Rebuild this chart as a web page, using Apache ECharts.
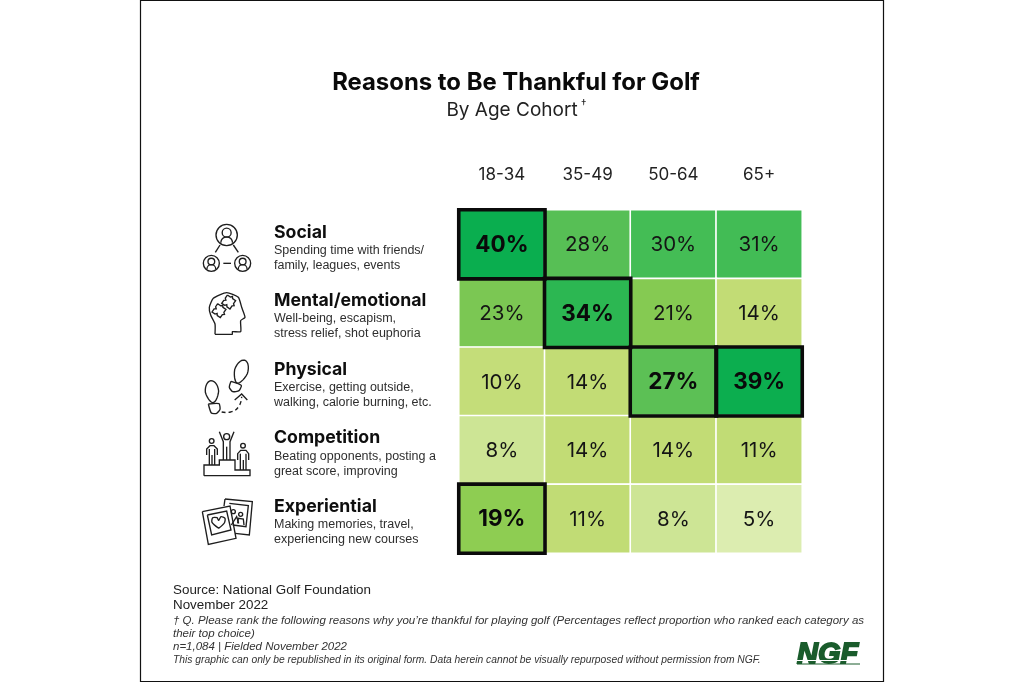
<!DOCTYPE html>
<html><head><meta charset="utf-8">
<style>html,body{margin:0;padding:0;background:#fff}#c{width:1024px;height:683px}</style>
<script src="https://cdn.jsdelivr.net/npm/echarts@6/dist/echarts.min.js"></script>
</head><body><div id="c"></div>
<script>
const titleText = 'Reasons to Be Thankful for Golf';
const subtitleText = 'By Age Cohort';
const cohorts = ['18-34','35-49','50-64','65+'];
const reasons = ['Social','Mental/emotional','Physical','Competition','Experiential'];
const descriptions = [
  ['Spending time with friends/','family, leagues, events'],
  ['Well-being, escapism,','stress relief, shot euphoria'],
  ['Exercise, getting outside,','walking, calorie burning, etc.'],
  ['Beating opponents, posting a','great score, improving'],
  ['Making memories, travel,','experiencing new courses']
];
const social = [40,28,30,31];
const mental = [23,34,21,14];
const physical = [10,14,27,39];
const competition = [8,14,14,11];
const experiential = [19,11,8,5];
const table = [social,mental,physical,competition,experiential];
const topChoice = [[0,0],[1,1],[2,2],[3,2],[0,4]]; // [cohort, reason]
const scaleValues = [5,8,10,11,14,19,21,23,27,28,30,31,34,39,40];
const scaleColors = ['#dcedb0','#cde595','#c4dd79','#c1dc75','#c2dc75','#8ecd52','#85ca52','#7bc753','#5cc055','#57bf55','#44bd55','#42bc55','#2cb752','#0cae4f','#0aae4f'];

const isTop=(x,y)=>topChoice.some(p=>p[0]===x&&p[1]===y);
const cells=[];
table.forEach((row,y)=>row.forEach((v,x)=>{
  const it={value:[x,y,v]};
  if(isTop(x,y)) it.label={fontWeight:'bold',fontSize:22.5,color:'#0a0a0a'};
  cells.push(it);
}));
const INK='#1e1e1e';
const ls={stroke:INK,lineWidth:1.35,fill:'none'};
const out=[];
function zp(o,pts,k){return pts.map(p=>[o[0]+p[0]/3,o[1]+p[1]/3]);}
function poly(o,pts,extra){out.push({type:'polyline',z:10,shape:Object.assign({points:zp(o,pts)},extra||{}),style:Object.assign({},ls,(extra&&extra.style)||{})});}
function circ(o,x,y,r){out.push({type:'circle',z:10,shape:{cx:o[0]+x/3,cy:o[1]+y/3,r:r/3},style:Object.assign({},ls)});}
function txt(text,x,y,font,extra){out.push({type:'text',z:10,x:x,y:y,style:Object.assign({text:text,font:font,fill:'#111',textAlign:'left',textVerticalAlign:'middle'},extra||{})});}
const Z1=[170,200],Z2=[170,375],Z3=[190,350];
// Social icon
function person(x,y,r){circ(Z1,x,y,r);circ(Z1,x,y-r*0.22,r*0.42);
  out.push({type:'arc',z:10,shape:{cx:Z1[0]+x/3,cy:Z1[1]+(y+r*0.72)/3,r:r*0.55/3,startAngle:Math.PI*1.0,endAngle:0,clockwise:true},style:Object.assign({},ls)});}
person(170,105,32);person(124,190,24);person(218,190,24);
poly(Z1,[[136,157],[150,135]]);poly(Z1,[[205,157],[190,135]]);poly(Z1,[[160,190],[183,190]]);
// Mental icon
poly(Z1,[[135,403],[135,372],[122,345],[118,322],[130,295],[170,278],[205,292],[215,322],[225,352],[212,362],[212,395],[187,395],[187,403],[135,403]],{smooth:0.18});
[[147,332],[176,306]].forEach(c=>{
 const a=0.6,s=15,co=Math.cos(a),si=Math.sin(a);
 const q=[[-s,-s],[-4,-s],[0,-s-5],[4,-s],[s,-s],[s,-4],[s+5,0],[s,4],[s,s],[4,s],[0,s-5],[-4,s],[-s,s],[-s,4],[-s+5,0],[-s,-4],[-s,-s]];
 poly(Z1,q.map(p=>[c[0]+p[0]*co-p[1]*si,c[1]+p[0]*si+p[1]*co]));
});
// Physical icon
function sole(o,cx,cy,rx,ry,rot){const pts=[];for(let i=0;i<=28;i++){const t=i/28*2*Math.PI;
  const w=Math.sin(t)>0?rx*(1-0.28*Math.sin(t)):rx; // narrower towards the heel end
  const x=w*Math.cos(t),y=ry*Math.sin(t);
  pts.push([cx+x*Math.cos(rot)-y*Math.sin(rot),cy+x*Math.sin(rot)+y*Math.cos(rot)]);}poly(o,pts);}
sole(Z3,66,125,20,33,-0.1);
poly(Z3,[[55,162],[87,161],[90,178],[80,190],[64,189],[55,162]],{smooth:0.2});
sole(Z3,153,65,20,36,0.32);
poly(Z3,[[123,94],[154,106],[147,122],[128,125],[118,112],[123,94]],{smooth:0.2});
poly(Z3,[[95,186],[122,186],[146,170],[155,140]],{smooth:0.5,style:{lineDash:[4,3]}});
poly(Z3,[[134,150],[155,132],[172,150]]);
// Competition icon
poly(Z2,[[102,302],[102,270],[148,270],[148,255],[195,255],[195,285],[240,285],[240,302],[102,302]]);
circ(Z2,170,185,9);
poly(Z2,[[148,170],[160,200],[160,255]]);poly(Z2,[[192,170],[180,200],[180,255]]);poly(Z2,[[170,215],[170,255]]);
circ(Z2,125,198,7);
poly(Z2,[[110,240],[110,222],[120,212],[132,212],[142,222],[142,240]]);poly(Z2,[[118,222],[118,270]]);poly(Z2,[[134,222],[134,270]]);poly(Z2,[[126,240],[126,270]]);
circ(Z2,219,212,7);
poly(Z2,[[203,255],[203,236],[212,226],[228,226],[236,236],[236,255]]);poly(Z2,[[211,236],[211,285]]);poly(Z2,[[228,236],[228,285]]);poly(Z2,[[220,255],[220,285]]);
// Experiential icon
poly(Z2,[[165,372],[247,380],[238,480],[195,475]]);poly(Z2,[[165,372],[162,393]]);
poly(Z2,[[178,385],[235,392],[228,455],[188,450]]);
poly(Z2,[[97,410],[180,393],[198,490],[115,508],[97,410]]);
poly(Z2,[[112,420],[170,408],[183,465],[125,480],[112,420]]);
poly(Z2,[[146,460],[126,442],[128,428],[141,428],[146,436],[153,425],[165,430],[163,444],[146,460]],{smooth:0.25});
circ(Z2,190,410,6);circ(Z2,212,418,6);
poly(Z2,[[184,450],[200,425],[206,445]]);poly(Z2,[[203,445],[205,430],[220,432],[222,450]]);
// Frame
out.push({type:'rect',z:1,shape:{x:140.5,y:0.5,width:743,height:681},style:{fill:'none',stroke:'#111',lineWidth:1.2}});
// Titles
txt(titleText,516,83,'bold 23.9px Inter',{textAlign:'center',fill:'#0a0a0a'});
txt(subtitleText,512,110,'19px Inter',{textAlign:'center',fill:'#222'});
txt('†',581,104,'11px Inter',{fill:'#222'});
// Footer
txt('Source: National Golf Foundation',173,590,'13.4px "Liberation Sans"',{fill:'#222'});
txt('November 2022',173,605,'13.4px "Liberation Sans"',{fill:'#222'});
txt('† Q. Please rank the following reasons why you’re thankful for playing golf (Percentages reflect proportion who ranked each category as',173,621,'italic 11.5px "Liberation Sans"',{fill:'#333'});
txt('their top choice)',173,634,'italic 11.5px "Liberation Sans"',{fill:'#333'});
txt('n=1,084 | Fielded November 2022',173,647,'italic 11.5px "Liberation Sans"',{fill:'#333'});
txt('This graphic can only be republished in its original form. Data herein cannot be visually repurposed without permission from NGF.',173,660,'italic 10.3px "Liberation Sans"',{fill:'#333'});
// Logo
txt('NGF',797,655,'italic 900 29px "Liberation Sans"',{fill:'#1a5c2c',stroke:'#1a5c2c',lineWidth:1.8});
out.push({type:'line',z:11,shape:{x1:796,y1:660.5,x2:861,y2:660.5},style:{stroke:'#fff',lineWidth:1}});
out.push({type:'line',z:11,shape:{x1:797,y1:664,x2:860,y2:664},style:{stroke:'#1a5c2c',lineWidth:1}});

const chart=echarts.init(document.getElementById('c'),null,{renderer:'canvas'});
chart.setOption({
  animation:false,
  backgroundColor:'#fff',
  grid:{left:459,top:210,width:343,height:343},
  xAxis:{type:'category',position:'top',data:cohorts,axisLine:{show:false},axisTick:{show:false},splitLine:{show:false},
    axisLabel:{margin:27,fontFamily:'Inter',fontSize:17,color:'#222'}},
  yAxis:{type:'category',inverse:true,data:reasons,axisLine:{show:false},axisTick:{show:false},splitLine:{show:false},
    axisLabel:{margin:185,align:'left',padding:[6,0,0,0],
      formatter:(v,i)=>'{h|'+v+'}\n{d|'+descriptions[i][0]+'}\n{d|'+descriptions[i][1]+'}',
      rich:{h:{fontFamily:'Inter',fontWeight:'bold',fontSize:17.7,color:'#0e0e0e',lineHeight:21,align:'left'},
            d:{fontFamily:'Liberation Sans',fontSize:12.5,color:'#2e2e2e',lineHeight:15,align:'left'}}}},
  visualMap:{show:false,type:'piecewise',seriesIndex:0,dimension:2,
    pieces:scaleValues.map((v,i)=>({value:v,color:scaleColors[i]}))},
  series:[
    {type:'heatmap',data:cells,itemStyle:{borderColor:'#fff',borderWidth:1.6},
      label:{show:true,formatter:p=>p.value[2]+'%',fontFamily:'Inter',fontSize:20.5,color:'#151515',offset:[0,1]},emphasis:{disabled:true}},
    {type:'heatmap',data:topChoice.map(p=>[p[0],p[1],table[p[1]][p[0]]]),z:5,silent:true,
      itemStyle:{color:'rgba(0,0,0,0)',borderColor:'#0b0b0b',borderWidth:3.6},label:{show:false},emphasis:{disabled:true}}
  ],
  graphic:{elements:out}
});
</script></body></html>
